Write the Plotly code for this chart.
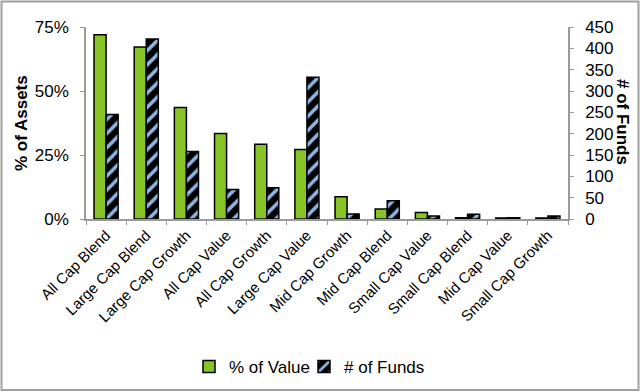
import plotly.graph_objects as go

categories = ["All Cap Blend", "Large Cap Blend", "Large Cap Growth", "All Cap Value",
              "All Cap Growth", "Large Cap Value", "Mid Cap Growth", "Mid Cap Blend",
              "Small Cap Value", "Small Cap Blend", "Mid Cap Value", "Small Cap Growth"]
pct_value = [72.0, 67.2, 43.6, 33.4, 29.2, 27.1, 8.7, 3.9, 2.5, 0.5, 0.4, 0.4]  # % of assets
num_funds = [245, 422, 158, 69, 73, 332, 12, 43, 7, 11, 3, 7]

left_ticks = [0, 0.25, 0.5, 0.75]
right_ticks = [0, 50, 100, 150, 200, 250, 300, 350, 400, 450]

W, H = 640, 392
ML, MR, MT, MB = 86, 72, 27, 173
PW, PH = W - ML - MR, H - MT - MB

def px_x(p):
    return (p - ML) / PW

def px_y(p):
    return (H - MB - p) / PH

FONT = "Liberation Sans, Arial, sans-serif"

fig = go.Figure()
fig.add_trace(go.Bar(
    x=categories, y=[v / 100 for v in pct_value], name="% of Value",
    marker=dict(color="#88C425", line=dict(color="black", width=1.5)),
    offsetgroup="a", yaxis="y", legend="legend",
))
fig.add_trace(go.Bar(
    x=categories, y=num_funds, name="# of Funds",
    marker=dict(color="black", line=dict(color="black", width=1.5),
                pattern=dict(shape="/", bgcolor="black", fgcolor="#8DB4E2",
                             size=10, solidity=0.35, fillmode="replace")),
    offsetgroup="b", yaxis="y2", legend="legend2",
))

leg_common = dict(orientation="h", yanchor="middle", xanchor="left",
                  font=dict(size=17), itemwidth=30, bgcolor="rgba(0,0,0,0)",
                  borderwidth=0)

fig.update_layout(
    width=W, height=H,
    margin=dict(l=ML, r=MR, t=MT, b=MB, pad=0, autoexpand=False),
    paper_bgcolor="white", plot_bgcolor="white",
    font=dict(family=FONT, color="black", size=17),
    barmode="group", bargap=0.4, bargroupgap=0,
    showlegend=True,
    legend=dict(x=px_x(189), y=px_y(367), **leg_common),
    legend2=dict(x=px_x(304), y=px_y(367), **leg_common),
    xaxis=dict(type="category", tickangle=-45, tickfont=dict(size=15),
               showline=True, linecolor="#9A9A9A", linewidth=1.5,
               ticks="outside", ticklen=4, tickcolor="#9A9A9A", tickson="boundaries",
               showgrid=False, zeroline=False, automargin=False),
    yaxis=dict(range=[0, 0.75], tickvals=left_ticks, tickformat=".0%", tickfont=dict(size=17),
               showline=True, linecolor="#9A9A9A", linewidth=1.5,
               ticks="outside", ticklen=4, tickcolor="#9A9A9A",
               showgrid=False, zeroline=False, ticklabelstandoff=8, automargin=False),
    yaxis2=dict(range=[0, 450], tickvals=right_ticks, overlaying="y", side="right",
                tickfont=dict(size=17),
                showline=True, linecolor="#9A9A9A", linewidth=1.5,
                ticks="outside", ticklen=4, tickcolor="#9A9A9A",
                showgrid=False, zeroline=False, ticklabelstandoff=8, automargin=False),
    annotations=[
        dict(text="<b>% of Assets</b>", xref="paper", yref="paper", x=px_x(21), y=px_y(123),
             textangle=-90, showarrow=False, font=dict(size=17), xanchor="center", yanchor="middle"),
        dict(text="<b># of Funds</b>", xref="paper", yref="paper", x=px_x(623), y=px_y(122),
             textangle=90, showarrow=False, font=dict(size=17), xanchor="center", yanchor="middle"),
    ],
    shapes=[
        dict(type="rect", xref="paper", yref="paper",
             x0=px_x(1.5), x1=px_x(638.5), y0=px_y(390), y1=px_y(1.5),
             line=dict(color="#A0A0A0", width=2), fillcolor="rgba(0,0,0,0)", layer="below"),
    ],
)

fig.write_html("out.html", config={"displayModeBar": False},
               post_script="document.body.style.margin='0';document.body.style.overflow='hidden';")
